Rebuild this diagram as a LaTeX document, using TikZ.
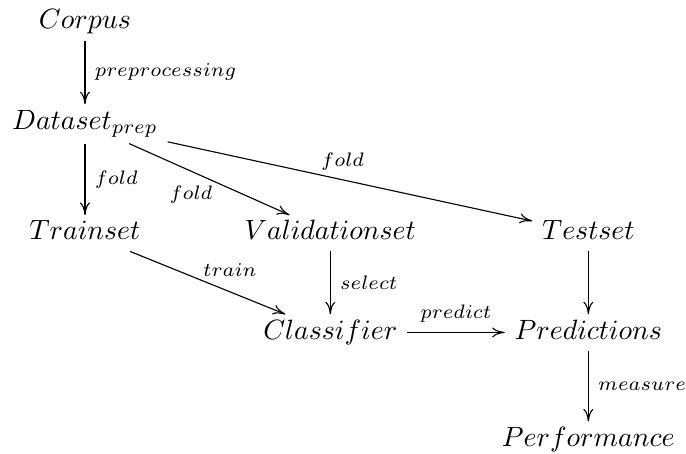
\documentclass[tikz,border=0pt]{standalone}
\usetikzlibrary{arrows.meta,graphs}
\usepackage{amsmath}

\begin{document}
\begin{tikzpicture}[>={To[length=4.5pt,width=3.6pt]}]
  \tikzset{obj/.style={anchor=base, text height=1.55ex, text depth=.45ex,
      inner ysep=2pt}}
  \useasboundingbox (0,0) rectangle (8.64,-5.71);
  \node[obj] (corpus) at (1.07,-0.365) {$Corpus$};
  \node[obj, text depth=.7ex] (dataset) at (1.07,-1.625) {$Dataset_{prep}$};
  \node[obj] (train) at (1.07,-3.02) {$Trainset$};
  \node[obj] (valid) at (4.16,-3.02) {$Validationset$};
  \node[obj] (test) at (7.41,-3.02) {$Testset$};
  \node[obj] (clf) at (4.16,-4.27) {$Classifier$};
  \node[obj] (pred) at (7.41,-4.27) {$Predictions$};
  \node[obj] (perf) at (7.41,-5.62) {$Performance$};
      \graph[use existing nodes] {
        corpus ->[edge label={$\scriptstyle preprocessing$}] dataset;
        dataset ->[edge label={$\scriptstyle fold$}] train;
        dataset ->[edge node={node[pos=.54, anchor=north east, inner sep=1pt]
          {$\scriptstyle fold$}}] valid;
        dataset ->[edge node={node[pos=.48, above] {$\scriptstyle fold$}}] test;
        train ->[edge node={node[pos=.45, anchor=south west, inner sep=1pt]
          {$\scriptstyle train$}}] clf;
        valid ->[edge label={$\scriptstyle select$}] clf;
        test -> pred;
        clf ->[edge label={$\scriptstyle predict$}] pred;
        pred ->[edge label={$\scriptstyle measure$}] perf;
      };
\end{tikzpicture}
\end{document}
